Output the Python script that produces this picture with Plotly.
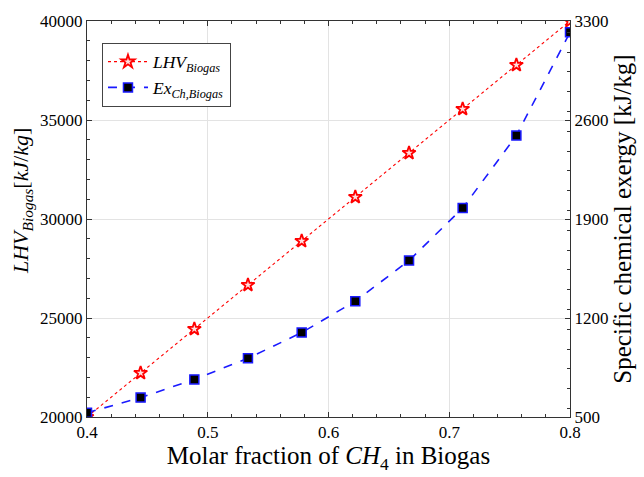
import plotly.graph_objects as go

x_frac = [0.4, 0.4444, 0.4889, 0.5333, 0.5778, 0.6222, 0.6667, 0.7111, 0.7556, 0.8]
lhv = [20000, 22222, 24444, 26667, 28889, 31111, 33333, 35556, 37778, 40000]
exergy = [530, 637, 766, 915, 1097, 1319, 1606, 1977, 2490, 3220]

x_ticks = [0.4, 0.5, 0.6, 0.7, 0.8]
y_ticks = [20000, 25000, 30000, 35000, 40000]
y2_ticks = [500, 1200, 1900, 2600, 3300]

FONT = "Liberation Serif"

fig = go.Figure()
fig.add_trace(go.Scatter(
    x=x_frac, y=lhv, mode="lines+markers",
    name="<i>LHV</i><sub><i>Biogas</i></sub>",
    line=dict(color="red", width=1.1, dash="dot"),
    marker=dict(symbol="star", size=10, color="#ffe0e0", line=dict(color="red", width=1.8)),
    yaxis="y",
))
fig.add_trace(go.Scatter(
    x=x_frac, y=exergy, mode="lines+markers",
    name="<i>Ex</i><sub><i>Ch,Biogas</i></sub>",
    line=dict(color="#1a1aff", width=1.6, dash="dash"),
    marker=dict(symbol="square", size=9, color="black", line=dict(color="#1a1aff", width=1.5)),
    yaxis="y2",
))

axis_common = dict(
    showline=True, linecolor="#333333", linewidth=1,
    ticks="inside", ticklen=5, tickcolor="#333333",
    tickfont=dict(family=FONT, size=17, color="black"),
    zeroline=False,
)

fig.update_layout(
    width=644, height=477,
    margin=dict(l=87, r=71, t=17, b=60),
    plot_bgcolor="white", paper_bgcolor="white",
    font=dict(family=FONT, color="black"),
    showlegend=True,
    legend=dict(
        x=0.031, y=0.945, xanchor="left", yanchor="top",
        bgcolor="white", bordercolor="#444444", borderwidth=1,
        font=dict(family=FONT, size=17.5, color="black"),
        tracegroupgap=0, itemwidth=40,
    ),
    xaxis=dict(
        range=[0.4, 0.8], tickvals=x_ticks, ticktext=[str(v) for v in x_ticks],
        mirror="ticks", showgrid=True, gridcolor="#e3e3e3", gridwidth=1,
        minor=dict(dtick=0.02, ticks="inside", ticklen=3, tickcolor="#333333", showgrid=False),
        title=dict(text="Molar fraction of <i>CH</i><sub>4</sub> in Biogas",
                   font=dict(family=FONT, size=25, color="black"), standoff=2),
        **axis_common,
    ),
    yaxis=dict(
        range=[20000, 40000], tickvals=y_ticks, ticktext=[str(v) for v in y_ticks],
        showgrid=True, gridcolor="#e3e3e3", gridwidth=1,
        minor=dict(dtick=1000, ticks="inside", ticklen=3, tickcolor="#333333", showgrid=False),
        **axis_common,
    ),
    yaxis2=dict(
        range=[500, 3300], tickvals=y2_ticks, ticktext=[str(v) for v in y2_ticks],
        overlaying="y", side="right", showgrid=False,
        minor=dict(dtick=140, ticks="inside", ticklen=3, tickcolor="#333333", showgrid=False),
        title=dict(text="Specific chemical exergy [kJ/kg]",
                   font=dict(family=FONT, size=25, color="black"), standoff=6),
        **axis_common,
    ),
)

fig.add_annotation(
    text="<i>LHV</i><sub><i>Biogas</i></sub>[<i>kJ</i>/<i>kg</i>]",
    xref="paper", yref="paper", x=0, y=0.5, xshift=-65, yshift=18,
    xanchor="center", yanchor="middle", textangle=-90, showarrow=False,
    font=dict(family=FONT, size=22, color="black"),
)

fig.write_html("out.html")
